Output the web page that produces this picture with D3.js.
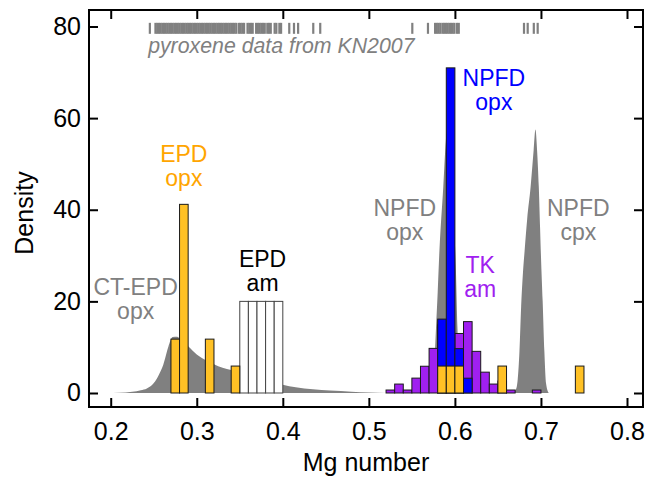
<!DOCTYPE html>
<html>
<head>
<meta charset="utf-8">
<script src="https://cdn.jsdelivr.net/npm/d3@7"></script>
<style>
  html, body { margin: 0; padding: 0; background: #fff; }
  svg { display: block; font-family: "Liberation Sans", Arial, Helvetica, sans-serif; }
</style>
</head>
<body>
<svg id="chart" width="647" height="480"></svg>
<script>
// ---- data ----------------------------------------------------------------
// histogram bins (left edge, width 0.01) and densities
const binWidth = 0.01;

const epdOpxBins    = [0.27, 0.28, 0.31, 0.34, 0.58, 0.59, 0.60, 0.65, 0.74];
const epdOpxDensity = [11.76, 41.18, 11.76, 5.88, 5.88, 5.88, 5.88, 5.88, 5.88];

const epdAmBins     = [0.35, 0.36, 0.37, 0.38, 0.39];
const epdAmDensity  = [20, 20, 20, 20, 20];

const tkAmBins      = [0.52, 0.53, 0.54, 0.55, 0.56, 0.57, 0.58, 0.59, 0.60, 0.61, 0.62, 0.63, 0.64, 0.65, 0.66, 0.69];
const tkAmDensity   = [0.65, 1.95, 0.65, 3.25, 5.84, 9.74, 14.9, 12.3, 12.99, 15.58, 9.09, 4.55, 1.95, 2.6, 0.65, 0.65];

const npfdOpxBins    = [0.58, 0.59, 0.60, 0.61];
const npfdOpxDensity = [16.13, 70.97, 9.68, 3.23];

// pyroxene density curves (Mg number, density)
const ctEpdOpxX = [0.195, 0.21, 0.225, 0.235, 0.242, 0.2515, 0.256, 0.261, 0.267, 0.272, 0.277, 0.282, 0.29, 0.30, 0.31, 0.32, 0.33, 0.34, 0.35, 0.375, 0.40, 0.415, 0.435, 0.455, 0.48, 0.50, 0.52];
const ctEpdOpxY = [0, 0.05, 0.25, 0.6, 1.0, 2.5, 4.0, 6.1, 10.1, 12.2, 12.3, 11.6, 10.2, 8.4, 7.2, 6.3, 5.5, 5.0, 4.6, 3.3, 1.8, 1.25, 0.8, 0.55, 0.3, 0.1, 0];

const npfdOpxX = [0.571, 0.574, 0.576, 0.578, 0.580, 0.582, 0.5865, 0.5895, 0.592, 0.595, 0.598, 0.601, 0.603, 0.605, 0.608];
const npfdOpxY = [0, 1.5, 6, 14, 22, 31, 45, 55, 58, 52, 40, 28, 14, 4, 0];

const npfdCpxX = [0.667, 0.671, 0.673, 0.675, 0.677, 0.679, 0.681, 0.684, 0.688, 0.6915, 0.6936, 0.6955, 0.6975, 0.699, 0.7, 0.702, 0.704, 0.706, 0.709];
const npfdCpxY = [0, 0.8, 3, 9, 19, 26, 31, 38, 45, 53, 57.5, 53, 45, 36, 30, 20, 9, 2, 0];

// pyroxene compositions shown as a rug along the top
const rugValues = [
  0.2455,
  0.252, 0.254, 0.256, 0.258, 0.260, 0.262, 0.264, 0.266, 0.268, 0.270, 0.272, 0.274,
  0.276, 0.278, 0.280, 0.282, 0.284, 0.286, 0.288, 0.290, 0.292, 0.294, 0.296, 0.298,
  0.300, 0.302, 0.304, 0.306, 0.308, 0.310, 0.312, 0.314, 0.316, 0.318, 0.320, 0.322,
  0.324, 0.326, 0.328, 0.330, 0.332, 0.334, 0.336, 0.338, 0.340, 0.342, 0.344, 0.346,
  0.349, 0.351, 0.353, 0.355, 0.359, 0.361, 0.363, 0.365,
  0.369, 0.371, 0.373, 0.375, 0.377, 0.379, 0.382, 0.384, 0.386,
  0.3905, 0.3925, 0.396, 0.398, 0.4075, 0.413, 0.4178, 0.4354, 0.4435,
  0.5505, 0.5687,
  0.577, 0.579, 0.581, 0.583, 0.5855, 0.5875, 0.5895, 0.5915, 0.5935, 0.5955, 0.5975,
  0.5995, 0.6025, 0.6045,
  0.6803, 0.6846, 0.6917, 0.6962
];
const rugLow = 78.4, rugHigh = 80.8;

const xTicks = [0.2, 0.3, 0.4, 0.5, 0.6, 0.7, 0.8];
const yTicks = [0, 20, 40, 60, 80];

// text labels: [line1, line2, x, baseline density of line1, colour]
const labels = [
  ["EPD", "opx", 0.285, 50.5, "#FFA500"],
  ["EPD", "am", 0.3765, 27.6, "#000000"],
  ["CT-EPD", "opx", 0.229, 21.4, "#808080"],
  ["NPFD", "opx", 0.6453, 67.0, "#0000FF"],
  ["NPFD", "opx", 0.5418, 38.7, "#808080"],
  ["NPFD", "cpx", 0.7434, 38.7, "#808080"],
  ["TK", "am", 0.6294, 26.2, "#A020F0"]
];

// ---- layout ----------------------------------------------------------------
const svg = d3.select("#chart");
const plotLeft = 89, plotRight = 643, plotTop = 10, plotBottom = 407;

const x = d3.scaleLinear().domain([0.17477, 0.8186]).range([plotLeft, plotRight]);
const y = d3.scaleLinear().domain([-3.056, 83.6]).range([plotBottom, plotTop]);

const grey = "#808080";
const axisFont = 25;

// density curves
const area = d3.area()
  .x(d => x(d[0]))
  .y0(y(0))
  .y1(d => y(d[1]))
  .curve(d3.curveMonotoneX);

[[ctEpdOpxX, ctEpdOpxY], [npfdOpxX, npfdOpxY], [npfdCpxX, npfdCpxY]].forEach(([xs, ys]) => {
  svg.append("path")
    .datum(d3.zip(xs, ys))
    .attr("d", area)
    .attr("fill", grey);
});

// rug
svg.append("g").selectAll("line").data(rugValues).join("line")
  .attr("x1", d => x(d)).attr("x2", d => x(d))
  .attr("y1", y(rugLow)).attr("y2", y(rugHigh))
  .attr("stroke", grey).attr("stroke-width", 2.2);

svg.append("text")
  .attr("x", x(0.2435)).attr("y", y(74.3))
  .attr("fill", grey)
  .attr("font-size", 21.3).attr("font-style", "italic")
  .text("pyroxene data from KN2007");

// histograms
function bars(bins, dens, fill, stroke) {
  svg.append("g").selectAll("rect").data(d3.zip(bins, dens)).join("rect")
    .attr("x", d => x(d[0]))
    .attr("width", d => x(d[0] + binWidth) - x(d[0]))
    .attr("y", d => y(d[1]))
    .attr("height", d => y(0) - y(d[1]))
    .attr("fill", fill)
    .attr("stroke", stroke)
    .attr("stroke-width", 1);
}
bars(epdAmBins, epdAmDensity, "#ffffff", "#444444");
bars(tkAmBins, tkAmDensity, "#A020F0", "#1a1a1a");
bars(npfdOpxBins, npfdOpxDensity, "#0000FF", "#1a1a1a");
bars(epdOpxBins, epdOpxDensity, "#FFC125", "#1a1a1a");

// labels
labels.forEach(([l1, l2, lx, ly, col]) => {
  const t = svg.append("text")
    .attr("text-anchor", "middle")
    .attr("fill", col)
    .attr("font-size", 23);
  t.append("tspan").attr("x", x(lx)).attr("y", y(ly)).text(l1);
  t.append("tspan").attr("x", x(lx)).attr("dy", 24).text(l2);
});

// axes: inward ticks on all four sides
const tickLen = 9;
const axisStyle = g => {
  g.select(".domain").remove();
  g.selectAll(".tick line").attr("stroke", "#000").attr("stroke-width", 2);
};
svg.append("g").attr("transform", `translate(0,${plotBottom})`)
  .call(d3.axisBottom(x).tickValues(xTicks).tickSizeInner(-tickLen).tickSizeOuter(0).tickPadding(15).tickFormat(d3.format(".1f")))
  .call(axisStyle)
  .call(g => g.selectAll("text").attr("font-size", axisFont).attr("fill", "#000").attr("font-family", null));
svg.append("g").attr("transform", `translate(0,${plotTop})`)
  .call(d3.axisTop(x).tickValues(xTicks).tickSizeInner(-tickLen).tickSizeOuter(0).tickFormat(""))
  .call(axisStyle);
svg.append("g").attr("transform", `translate(${plotLeft},0)`)
  .call(d3.axisLeft(y).tickValues(yTicks).tickSizeInner(-tickLen).tickSizeOuter(0).tickPadding(8))
  .call(axisStyle)
  .call(g => g.selectAll("text").attr("font-size", axisFont).attr("fill", "#000").attr("font-family", null));
svg.append("g").attr("transform", `translate(${plotRight},0)`)
  .call(d3.axisRight(y).tickValues(yTicks).tickSizeInner(-tickLen).tickSizeOuter(0).tickFormat(""))
  .call(axisStyle);

// frame
svg.append("rect")
  .attr("x", plotLeft).attr("y", plotTop)
  .attr("width", plotRight - plotLeft).attr("height", plotBottom - plotTop)
  .attr("fill", "none").attr("stroke", "#000").attr("stroke-width", 2);

// axis titles
svg.append("text")
  .attr("x", (plotLeft + plotRight) / 2).attr("y", 471)
  .attr("text-anchor", "middle").attr("font-size", axisFont)
  .text("Mg number");
svg.append("text")
  .attr("transform", `translate(33,213) rotate(-90)`)
  .attr("text-anchor", "middle").attr("font-size", axisFont)
  .text("Density");
</script>
</body>
</html>
